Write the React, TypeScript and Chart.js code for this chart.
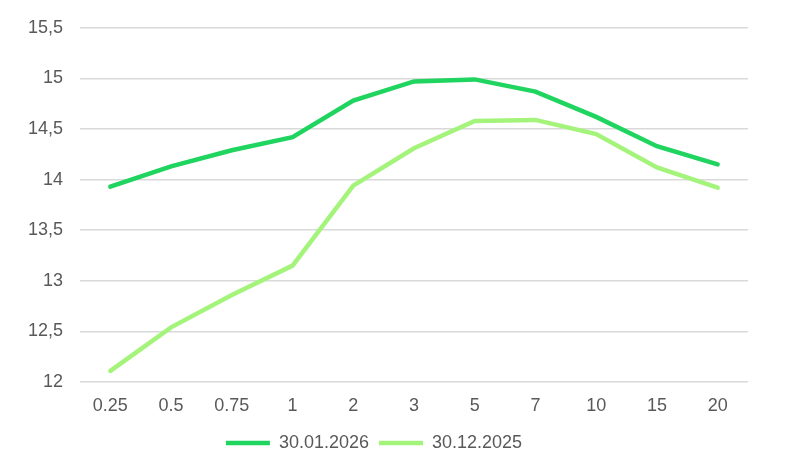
import React, { useEffect, useRef } from 'react';
import { Chart, registerables } from 'chart.js';

Chart.register(...registerables);

// maturities (years)
const maturities = ['0.25', '0.5', '0.75', '1', '2', '3', '5', '7', '10', '15', '20'];

// yield curve values, %
const curveJan2026 = [13.93, 14.13, 14.29, 14.42, 14.78, 14.97, 14.99, 14.87, 14.62, 14.33, 14.15];
const curveDec2025 = [12.11, 12.54, 12.86, 13.15, 13.94, 14.31, 14.58, 14.59, 14.45, 14.12, 13.92];

const seriesLabels = ['30.01.2026', '30.12.2025'];

const FONT = { family: '"Liberation Sans", Arial, sans-serif', size: 18 };
const TEXT_COLOR = '#595959';

const App: React.FC = () => {
  const canvasRef = useRef<HTMLCanvasElement>(null);
  const chartRef = useRef<Chart | null>(null);

  useEffect(() => {
    document.body.style.margin = '0';
    if (!canvasRef.current) return;
    const ctx = canvasRef.current.getContext('2d');
    if (!ctx) return;

    if (chartRef.current) chartRef.current.destroy();

    chartRef.current = new Chart(ctx, {
      type: 'line',
      data: {
        labels: maturities,
        datasets: [
          {
            label: seriesLabels[0],
            data: curveJan2026,
            borderColor: '#1fd45f',
            backgroundColor: '#1fd45f',
            borderWidth: 4.5,
            borderCapStyle: 'round',
            pointRadius: 0,
            tension: 0,
          },
          {
            label: seriesLabels[1],
            data: curveDec2025,
            borderColor: '#a4f47c',
            backgroundColor: '#a4f47c',
            borderWidth: 4.5,
            borderCapStyle: 'round',
            pointRadius: 0,
            tension: 0,
          },
        ],
      },
      options: {
        animation: false,
        responsive: true,
        maintainAspectRatio: false,
        layout: { padding: { top: 15, right: 37, left: 0, bottom: 2 } },
        scales: {
          x: {
            offset: true,
            afterFit: (scale: any) => {
              scale.height = 42;
            },
            grid: { display: false },
            border: { display: false },
            ticks: { color: TEXT_COLOR, font: FONT, padding: 5, maxRotation: 0 },
          },
          y: {
            min: 12,
            max: 15.5,
            afterFit: (scale: any) => {
              scale.width = 80;
            },
            grid: { color: '#d9d9d9', lineWidth: 1.5, drawTicks: false },
            border: { display: false },
            ticks: {
              stepSize: 0.5,
              color: TEXT_COLOR,
              font: FONT,
              padding: 17,
              callback: (v: any) => String(v).replace('.', ','),
            },
          },
        },
        plugins: {
          legend: {
            position: 'bottom',
            labels: {
              color: TEXT_COLOR,
              font: FONT,
              usePointStyle: true,
              pointStyle: 'line',
              pointStyleWidth: 44,
              padding: 10,
            },
          },
          tooltip: { enabled: false },
        },
      },
    });

    return () => {
      if (chartRef.current) {
        chartRef.current.destroy();
        chartRef.current = null;
      }
    };
  }, []);

  return (
    <div style={{ position: 'fixed', left: 0, top: 0, width: '785px', height: '464px', background: '#fff' }}>
      <canvas ref={canvasRef} />
    </div>
  );
};

export default App;
